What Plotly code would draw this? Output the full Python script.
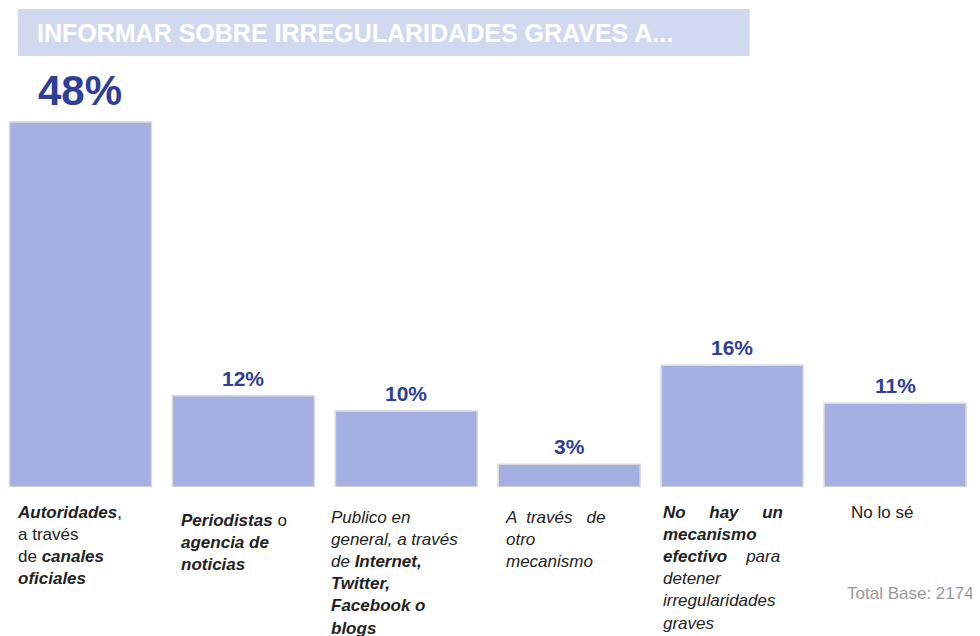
import plotly.graph_objects as go

# ---- data ----
categories = ["Autoridades", "Periodistas", "Publico", "Otro", "No hay mecanismo", "No lo sé"]
values = [48, 12, 10, 3, 16, 11]
value_labels = ["48%", "12%", "10%", "3%", "16%", "11%"]
category_labels = [
    "<b><i>Autoridades</i></b>,<br>a través<br>de <b><i>canales</i></b><br><b><i>oficiales</i></b>",
    "<b><i>Periodistas</i></b> o<br><b><i>agencia de</i></b><br><b><i>noticias</i></b>",
    "<i>Publico en<br>general, a través<br>de </i><b><i>Internet,</i></b><br><b><i>Twitter,</i></b><br><b><i>Facebook o</i></b><br><b><i>blogs</i></b>",
    "<i>A  través   de<br>otro<br>mecanismo</i>",
    "<b><i>No     hay     un</i></b><br><b><i>mecanismo</i></b><br><b><i>efectivo</i></b>    <i>para</i><br><i>detener<br>irregularidades<br>graves</i>",
    "No lo sé",
]
title_text = "INFORMAR SOBRE IRREGULARIDADES GRAVES A..."
base_text = "Total Base: 2174"

# ---- layout helpers (pixels) ----
label_xshift = [-65, -64, -77, -66, -71, -46]
label_yshift = [-14, -22, -19, -19, -14, -14]
value_font = [42, 21, 21, 21, 21, 21]
value_yshift = [6, 4, 4, 4, 4, 4]

BAR = "#a3b0e1"
VAL = "#2f3e98"

# page offset of 8px (body margin) accounted for below
OFF = 8.0
FIG_W, FIG_H = 972, 628
M_L, M_R, M_T, M_B = 0, 3.5, 52, 149
W_PLOT = FIG_W - M_L - M_R
H_PLOT = FIG_H - M_T - M_B
BOTTOM = OFF + M_T + H_PLOT  # page y of plot bottom
SLOT = 163.0
FIRST_CENTER = 80.5
x_lo = -(FIRST_CENTER - OFF) / SLOT
x_hi = x_lo + W_PLOT / SLOT
PX_PER_UNIT = 365.0 / 48.0

fig = go.Figure(go.Bar(
    x=categories, y=values, width=142.0 / SLOT,
    marker=dict(color=BAR, line=dict(color="#d9d9d9", width=1.5)),
    hoverinfo="skip",
))

ann = []
for c, v, t, fs, ys in zip(categories, values, value_labels, value_font, value_yshift):
    ann.append(dict(x=c, y=v, xref="x", yref="y", text=f"<b>{t}</b>", showarrow=False,
                    yanchor="bottom", yshift=ys,
                    font=dict(size=fs, color=VAL, family="Liberation Sans, Arial")))
for c, t, xs, ys in zip(categories, category_labels, label_xshift, label_yshift):
    ann.append(dict(x=c, y=0, xref="x", yref="y", text=t, showarrow=False,
                    xanchor="left", yanchor="top", align="left", xshift=xs, yshift=ys,
                    font=dict(size=17, color="#222222", family="Liberation Sans, Arial")))

def px(x):
    return (x - OFF - M_L) / W_PLOT

def py(y):
    return (BOTTOM - y) / H_PLOT

ann.append(dict(x=px(35), y=py(33), xref="paper", yref="paper", text=f"<b>{title_text}</b>",
                showarrow=False, xanchor="left", yanchor="middle",
                font=dict(size=25, color="white", family="Liberation Sans Narrow, Arial Narrow, Liberation Sans")))
ann.append(dict(x=px(977), y=py(593), xref="paper", yref="paper", text=base_text,
                showarrow=False, xanchor="right", yanchor="middle",
                font=dict(size=17, color="#9a9a9a", family="Liberation Sans, Arial")))

fig.update_layout(
    width=FIG_W, height=FIG_H,
    margin=dict(l=M_L, r=M_R, t=M_T, b=M_B),
    paper_bgcolor="white", plot_bgcolor="white",
    showlegend=False,
    xaxis=dict(visible=False, range=[x_lo, x_hi]),
    yaxis=dict(visible=False, range=[0, H_PLOT / PX_PER_UNIT]),
    annotations=ann,
    shapes=[dict(type="rect", xref="paper", yref="paper",
                 x0=px(18), x1=px(750), y0=py(56), y1=py(9),
                 fillcolor="#d1d9f1", line=dict(width=0), layer="below")],
)

fig.write_html("out.html")
